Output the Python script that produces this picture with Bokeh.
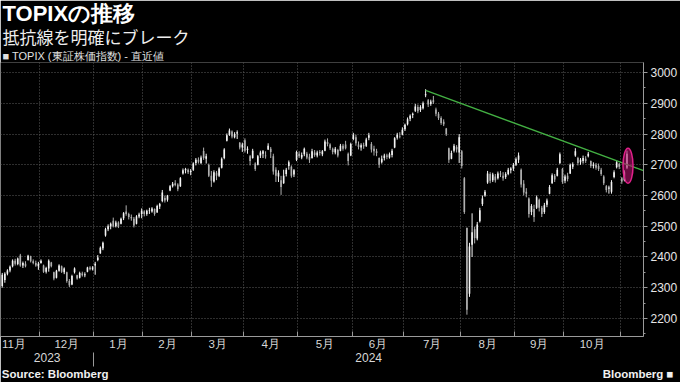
import numpy as np
import pandas as pd
from bokeh.plotting import figure
from bokeh.models import (ColumnDataSource, Range1d, LinearAxis, FixedTicker,
                          SingleIntervalTicker, Title)
from bokeh.embed import file_html
from bokeh.resources import INLINE

# ---------------- data ----------------
holidays = ["2023-11-03", "2023-11-23", "2024-01-01", "2024-01-02", "2024-01-03",
            "2024-01-08", "2024-02-12", "2024-02-23", "2024-03-20", "2024-04-29",
            "2024-05-03", "2024-05-06", "2024-07-15", "2024-08-12", "2024-09-16",
            "2024-09-23", "2024-10-14", "2024-11-04"]
first_day = "2023-11-09"
last_day = "2024-11-06"

opens = [
    # Nov 2023
    2305, 2325, 2345, 2356, 2370, 2388, 2377, 2405, 2372, 2378, 2390, 2402, 2386, 2380, 2370,
    # Dec
    2380, 2372, 2352, 2362, 2382, 2350, 2332, 2355, 2370, 2350, 2350, 2322, 2310, 2350, 2340,
    2332, 2346, 2340, 2352, 2366, 2360,
    # Jan 2024
    2372, 2390, 2412, 2428, 2470, 2490, 2500, 2518, 2500, 2512, 2508, 2526, 2548, 2540, 2530,
    2524, 2508, 2532, 2540,
    # Feb
    2548, 2540, 2550, 2548, 2556, 2545, 2564, 2582, 2592, 2586, 2616, 2630, 2640, 2636, 2630,
    2672, 2682, 2684, 2676,
    # Mar
    2684, 2706, 2716, 2706, 2745, 2720, 2700, 2664, 2646, 2674, 2664, 2690, 2722, 2778, 2798,
    2808, 2790, 2802, 2772, 2756,
    # Apr
    2780, 2748, 2728, 2722, 2704, 2700, 2730, 2736, 2730, 2750, 2752, 2728, 2684, 2662, 2650,
    2640, 2670, 2696, 2694, 2668, 2716,
    # May
    2736, 2724, 2734, 2736, 2726, 2722, 2740, 2730, 2742, 2734, 2746, 2774, 2766, 2752, 2740,
    2748, 2746, 2762, 2766, 2736, 2730,
    # Jun
    2784, 2790, 2766, 2756, 2764, 2762, 2788, 2768, 2752, 2744, 2722, 2708, 2722, 2730, 2724,
    2732, 2756, 2788, 2794, 2798,
    # Jul
    2816, 2832, 2850, 2862, 2876, 2888, 2878, 2884, 2926, 2910, 2898, 2910, 2880, 2866, 2852,
    2840, 2818, 2754, 2720, 2746, 2758, 2740,
    # Aug
    2744, 2656, 2494, 2280, 2440, 2490, 2460, 2516, 2572, 2600, 2642, 2670, 2650, 2662, 2656,
    2672, 2664, 2660, 2670, 2682, 2688,
    # Sep
    2700, 2716, 2684, 2638, 2612, 2590, 2546, 2556, 2560, 2586, 2560, 2546, 2570, 2606, 2640,
    2664, 2664, 2706, 2686,
    # Oct
    2648, 2664, 2672, 2694, 2730, 2722, 2708, 2712, 2720, 2728, 2712, 2696, 2700, 2696, 2684,
    2662, 2630, 2622, 2612, 2660, 2692, 2702,
    # Nov
    2656, 2650, 2690,
]
highs = [
    2348, 2350, 2360, 2372, 2392, 2394, 2398, 2410, 2385, 2386, 2407, 2404, 2392, 2388, 2384,
    2392, 2375, 2368, 2392, 2384, 2352, 2358, 2376, 2372, 2366, 2352, 2328, 2342, 2366, 2342,
    2352, 2352, 2350, 2368, 2370, 2370,
    2384, 2406, 2434, 2450, 2495, 2506, 2512, 2528, 2518, 2516, 2528, 2546, 2568, 2544, 2538,
    2530, 2536, 2544, 2558,
    2552, 2554, 2560, 2562, 2558, 2570, 2576, 2618, 2600, 2602, 2634, 2644, 2650, 2640, 2660,
    2688, 2690, 2688, 2686,
    2708, 2722, 2724, 2730, 2756, 2736, 2704, 2680, 2682, 2680, 2692, 2724, 2754, 2802, 2818,
    2812, 2806, 2812, 2774, 2772,
    2786, 2760, 2732, 2752, 2708, 2732, 2746, 2748, 2744, 2770, 2758, 2736, 2692, 2682, 2664,
    2684, 2690, 2714, 2698, 2686, 2746,
    2744, 2740, 2756, 2742, 2736, 2752, 2748, 2746, 2748, 2748, 2782, 2786, 2770, 2756, 2758,
    2752, 2768, 2768, 2778, 2740, 2772,
    2804, 2798, 2776, 2770, 2772, 2788, 2804, 2774, 2762, 2752, 2724, 2730, 2736, 2736, 2740,
    2752, 2790, 2804, 2806, 2822,
    2834, 2854, 2864, 2870, 2898, 2896, 2894, 2906, 2946, 2914, 2912, 2924, 2886, 2872, 2858,
    2848, 2820, 2756, 2746, 2768, 2764, 2800,
    2748, 2660, 2496, 2446, 2542, 2498, 2514, 2560, 2600, 2618, 2680, 2676, 2674, 2670, 2678,
    2680, 2676, 2676, 2690, 2692, 2706,
    2724, 2740, 2688, 2650, 2624, 2594, 2572, 2570, 2600, 2590, 2566, 2576, 2590, 2634, 2672,
    2670, 2690, 2740, 2690,
    2668, 2674, 2704, 2708, 2754, 2726, 2722, 2730, 2728, 2742, 2714, 2708, 2706, 2704, 2690,
    2666, 2634, 2632, 2650, 2682, 2714, 2706,
    2660, 2682, 2746,
]
lows = [
    2300, 2316, 2340, 2350, 2366, 2372, 2373, 2368, 2364, 2366, 2388, 2382, 2376, 2368, 2358,
    2378, 2348, 2346, 2352, 2366, 2324, 2330, 2352, 2348, 2344, 2316, 2302, 2308, 2346, 2326,
    2330, 2336, 2334, 2350, 2356, 2356,
    2342, 2386, 2410, 2422, 2466, 2484, 2490, 2496, 2496, 2494, 2506, 2520, 2534, 2522, 2518,
    2496, 2506, 2526, 2526,
    2532, 2534, 2540, 2544, 2534, 2544, 2556, 2578, 2577, 2580, 2614, 2626, 2630, 2614, 2628,
    2668, 2672, 2670, 2666,
    2680, 2698, 2704, 2702, 2716, 2704, 2660, 2628, 2642, 2650, 2660, 2688, 2718, 2776, 2794,
    2786, 2786, 2784, 2750, 2742,
    2740, 2736, 2698, 2720, 2680, 2698, 2722, 2722, 2720, 2748, 2722, 2668, 2644, 2644, 2602,
    2638, 2662, 2684, 2658, 2660, 2712,
    2722, 2718, 2728, 2718, 2706, 2720, 2726, 2724, 2730, 2728, 2744, 2760, 2748, 2734, 2734,
    2724, 2744, 2746, 2750, 2698, 2728,
    2780, 2762, 2750, 2746, 2752, 2758, 2780, 2740, 2730, 2728, 2690, 2704, 2714, 2718, 2720,
    2724, 2754, 2782, 2786, 2796,
    2810, 2828, 2842, 2852, 2872, 2868, 2872, 2880, 2920, 2888, 2892, 2898, 2858, 2846, 2830,
    2826, 2794, 2706, 2718, 2740, 2740, 2706,
    2688, 2540, 2212, 2270, 2400, 2444, 2454, 2512, 2566, 2596, 2638, 2640, 2644, 2642, 2652,
    2660, 2648, 2654, 2666, 2672, 2680,
    2696, 2706, 2626, 2600, 2594, 2528, 2536, 2514, 2556, 2548, 2530, 2540, 2562, 2604, 2638,
    2644, 2662, 2702, 2638,
    2640, 2646, 2670, 2686, 2726, 2698, 2700, 2704, 2706, 2724, 2690, 2688, 2684, 2680, 2664,
    2634, 2610, 2606, 2606, 2656, 2688, 2686,
    2638, 2646, 2686,
]
closes = [
    2342, 2345, 2356, 2368, 2388, 2378, 2395, 2372, 2380, 2370, 2404, 2386, 2380, 2372, 2378,
    2388, 2352, 2364, 2388, 2370, 2330, 2355, 2372, 2352, 2362, 2322, 2308, 2338, 2362, 2330,
    2348, 2340, 2344, 2366, 2360, 2366,
    2378, 2398, 2430, 2446, 2490, 2500, 2508, 2500, 2512, 2498, 2524, 2542, 2540, 2530, 2526,
    2502, 2532, 2538, 2550,
    2540, 2550, 2552, 2558, 2540, 2566, 2572, 2610, 2584, 2598, 2630, 2638, 2634, 2620, 2656,
    2682, 2686, 2676, 2680,
    2704, 2716, 2710, 2724, 2722, 2728, 2664, 2648, 2676, 2664, 2688, 2720, 2750, 2796, 2812,
    2792, 2800, 2806, 2756, 2766,
    2746, 2752, 2712, 2746, 2686, 2728, 2740, 2744, 2728, 2762, 2742, 2678, 2664, 2674, 2628,
    2664, 2684, 2708, 2664, 2682, 2742,
    2728, 2732, 2752, 2724, 2716, 2744, 2732, 2740, 2738, 2744, 2776, 2768, 2754, 2742, 2752,
    2730, 2762, 2752, 2754, 2712, 2768,
    2796, 2770, 2758, 2764, 2760, 2782, 2796, 2750, 2744, 2738, 2700, 2720, 2730, 2726, 2734,
    2746, 2786, 2798, 2792, 2814,
    2830, 2848, 2860, 2866, 2890, 2874, 2888, 2900, 2930, 2896, 2906, 2904, 2866, 2852, 2836,
    2832, 2800, 2716, 2738, 2762, 2750, 2790,
    2696, 2546, 2228, 2434, 2480, 2462, 2506, 2552, 2590, 2612, 2672, 2648, 2668, 2650, 2672,
    2668, 2656, 2670, 2684, 2688, 2700,
    2718, 2730, 2636, 2610, 2606, 2540, 2566, 2530, 2594, 2560, 2540, 2568, 2584, 2628, 2666,
    2652, 2684, 2734, 2644,
    2662, 2654, 2700, 2702, 2744, 2706, 2716, 2722, 2712, 2736, 2696, 2700, 2690, 2686, 2670,
    2640, 2618, 2626, 2644, 2676, 2708, 2694,
    2646, 2676, 2736,
]

month_labels = ["11月", "12月", "1月", "2月", "3月", "4月", "5月", "6月", "7月", "8月", "9月", "10月"]
year_labels = ["2023", "2024"]
y_ticks_step = 100

# resistance line (from the July high) and highlighted last session
res_dates = ["2024-07-11", "edge"]
res_values = [2942, 2681]
highlight_date = "2024-11-06"
highlight_value = 2697

title_text = "TOPIXの推移"
subtitle_text = "抵抗線を明確にブレーク"
legend_text = "■ TOPIX (東証株価指数) - 直近値"
footer_texts = ["Source: Bloomberg", "Bloomberg ■"]
footer_pos = [20.5, 246.3]          # positions along the x axis (trading-day units)

# ---------------- calendar (trading-day axis) ----------------
cal = [d for d in pd.bdate_range("2023-11-01", last_day) if d.strftime("%Y-%m-%d") not in holidays]
start = cal.index(pd.Timestamp(first_day))
pos_all = np.arange(len(cal)) - start
n = min(len(opens), len(highs), len(lows), len(closes), len(cal) - start)
dates = cal[start:start + n]
xs = np.arange(n)

o = np.array(opens[:n], float); h = np.array(highs[:n], float)
l = np.array(lows[:n], float); c = np.array(closes[:n], float)
up = c >= o
colors = np.where(up, "#f4f4f4", "#b0b0b0")
src = ColumnDataSource(dict(x=xs, o=o, h=h, l=l, c=c,
                            top=np.maximum(o, c), bot=np.minimum(o, c), color=colors))

# month boundaries / centres
months = [(d.year, d.month) for d in cal]
bounds = []
first_idx, last_idx = {}, {}
for k, m in enumerate(months):
    first_idx.setdefault(m, pos_all[k])
    last_idx[m] = pos_all[k]
    if k > 0 and months[k] != months[k - 1]:
        bounds.append(float(pos_all[k]) - 0.5)
mkeys = list(dict.fromkeys(months))[:len(month_labels)]
month_centers = [float((first_idx[m] - 0.5 + last_idx[m] + 0.5) / 2) for m in mkeys]

X0, X1 = -0.68, 248.4
Y0, Y1 = 2141, 3033

year_bound = [float(first_idx[(2024, 1)]) - 0.5]
year_centers = [(X0 + year_bound[0]) / 2, (year_bound[0] + X1) / 2]

# ---------------- figure ----------------
p = figure(width=680, height=382, x_range=Range1d(X0, X1), y_range=Range1d(Y0, Y1),
           y_axis_location="right", toolbar_location=None, output_backend="svg",
           background_fill_color="black", border_fill_color="black",
           outline_line_color=None, min_border_left=0, min_border_right=0,
           min_border_top=0, min_border_bottom=0)

CJK = "Noto Sans CJK JP"
LAT = "Liberation Sans"
GRID = "#5c5c5c"
AXC = "#9a9a9a"

# titles (first added = closest to the plot)
p.add_layout(Title(text=legend_text, text_font=LAT, text_font_size="11px",
                   text_font_style="normal", text_color="#e0e0e0", align="left",
                   standoff=2, offset=2), "above")
p.add_layout(Title(text=subtitle_text, text_font=CJK, text_font_size="17px",
                   text_font_style="normal", text_color="#eeeeee", align="left",
                   standoff=-4, offset=2), "above")
p.add_layout(Title(text=title_text, text_font=LAT, text_font_size="22px",
                   text_font_style="bold", text_color="#ffffff", align="left",
                   standoff=-4, offset=2), "above")

# x axis (months)
xa = p.xaxis[0]
xa.ticker = FixedTicker(ticks=month_centers, minor_ticks=bounds)
xa.major_label_overrides = {mc: lab for mc, lab in zip(month_centers, month_labels)}
xa.major_tick_out = 0; xa.major_tick_in = 0
xa.minor_tick_in = 5; xa.minor_tick_out = 0
xa.minor_tick_line_color = AXC
xa.axis_line_color = AXC
xa.major_label_text_color = "#d8d8d8"
xa.major_label_text_font = LAT
xa.major_label_text_font_size = "11.5px"
xa.major_label_standoff = 1

# year axis
ya2 = LinearAxis(ticker=FixedTicker(ticks=year_centers, minor_ticks=year_bound))
ya2.major_label_overrides = {yc: lab for yc, lab in zip(year_centers, year_labels)}
ya2.major_tick_out = 0; ya2.major_tick_in = 0
ya2.minor_tick_out = 14; ya2.minor_tick_in = 0
ya2.minor_tick_line_color = AXC
ya2.axis_line_color = None
ya2.major_label_text_color = "#d8d8d8"
ya2.major_label_text_font = LAT
ya2.major_label_text_font_size = "12px"
ya2.major_label_standoff = -14
p.add_layout(ya2, "below")

# footer axis (source + logo)
fa = LinearAxis(ticker=FixedTicker(ticks=footer_pos))
fa.major_label_overrides = {fp: t for fp, t in zip(footer_pos, footer_texts)}
fa.major_tick_out = 0; fa.major_tick_in = 0
fa.minor_tick_out = 0; fa.minor_tick_in = 0
fa.axis_line_color = None
fa.major_label_text_color = "#f0f0f0"
fa.major_label_text_font = LAT
fa.major_label_text_font_style = "bold"
fa.major_label_text_font_size = "11.5px"
fa.major_label_standoff = 3
p.add_layout(fa, "below")

# y axis (right)
yax = p.yaxis[0]
yax.ticker = SingleIntervalTicker(interval=y_ticks_step, num_minor_ticks=2)
yax.major_tick_out = 4; yax.major_tick_in = 0
yax.minor_tick_out = 2; yax.minor_tick_in = 0
yax.axis_line_color = AXC
yax.major_tick_line_color = AXC
yax.minor_tick_line_color = AXC
yax.major_label_text_color = "#e6e6e6"
yax.major_label_text_font = LAT
yax.major_label_text_font_size = "12px"
yax.major_label_standoff = 3

p.xgrid.ticker = FixedTicker(ticks=bounds)
for g in (p.xgrid[0], p.ygrid[0]):
    g.grid_line_color = GRID
    g.grid_line_dash = "1 2"
    g.grid_line_width = 1

# candles
p.segment(x0="x", y0="l", x1="x", y1="h", source=src, line_color="color", line_width=1)
p.vbar(x="x", width=0.62, top="top", bottom="bot", source=src,
       fill_color="color", line_color=None)

# resistance line
def date_pos(s):
    if s == "edge":
        return X1
    return float(list(dates).index(pd.Timestamp(s)))

p.line([date_pos(s) for s in res_dates], res_values, line_color="#43b043", line_width=1.3)

# highlight ellipse
hx = date_pos(highlight_date) + 0.4
p.ellipse(x=[hx], y=[highlight_value], width=10, height=35,
          width_units="screen", height_units="screen",
          fill_color="#b0106a", fill_alpha=0.6, line_color="#e0208a", line_width=1.5)

open("out.html", "w").write(file_html(p, INLINE))
